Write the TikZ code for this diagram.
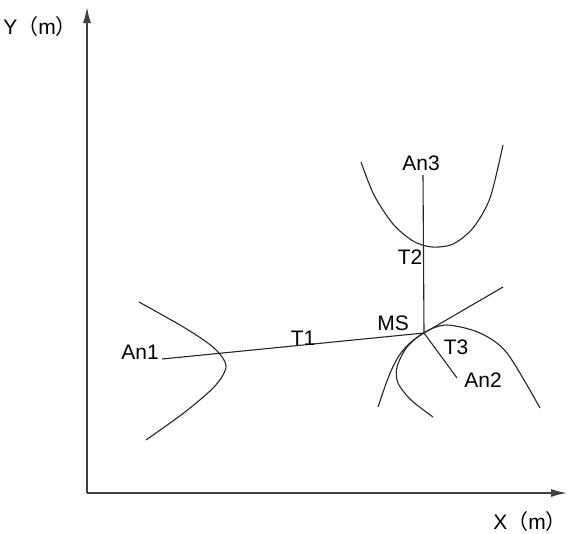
\documentclass[tikz,border=0pt]{standalone}
\usepackage{fontspec}
\setmainfont{Liberation Sans}
\newfontfamily\cjk{Noto Sans CJK SC}
\usetikzlibrary{arrows.meta}
\begin{document}
\begin{tikzpicture}[x=1pt,y=-1pt,
  axis/.style={draw=black!75,line width=1.5pt,-{Latex[length=16pt,width=8pt]}},
  curve/.style={draw=black!85,line width=1.1pt},
  link/.style={draw=black!85,line width=1.1pt},
  lbl/.style={font=\fontsize{21}{25}\selectfont,inner sep=0pt}]
\useasboundingbox (0,0) rectangle (569,533);
% axes
\coordinate (O) at (87,493);
\coordinate (Ytop) at (87,7);
\coordinate (Xend) at (567,493);
\draw[axis] (O) -- (Ytop);
\draw[axis] (O) -- (Xend);
\node[lbl] (ylab) at (40,27) {Y{\cjk （}m{\cjk ）}};
\node[lbl] (xlab) at (530,522) {X{\cjk （}m{\cjk ）}};
% points
\coordinate (MS) at (424,333);
\coordinate (A1) at (162,359);
\coordinate (A2) at (457,378);
\coordinate (A3) at (423,175);
% connectors
\draw[link] (A1) -- (MS);
\draw[link] (A3) -- (MS);
\draw[link] (MS) -- (A2);
% curves
\draw[curve] plot[smooth] coordinates {(139,302) (185,328) (214,348) (226,366) (215,386) (185,412) (146,440)};
\draw[curve] plot[smooth] coordinates {(361,162) (374,195) (393,224) (413,241) (432,247) (453,244) (473,228) (490,198) (503,145)};
\draw[curve] (378,407) .. controls (392,365) and (398,348) .. (MS) -- (503,287);
\draw[curve] plot[smooth] coordinates {(540,408) (507,353) (480,333) (447,325) (425,332) (407,347) (397,367) (398,383) (411,400) (433,417)};
% labels
\node[lbl] (lA3) at (421,163) {An3};
\node[lbl] (lT2) at (410,257) {T2};
\node[lbl] (lMS) at (393,323) {MS};
\node[lbl] (lT1) at (303,338) {T1};
\node[lbl] (lT3) at (456,347) {T3};
\node[lbl] (lA2) at (483,380) {An2};
\node[lbl] (lA1) at (140,352) {An1};
\end{tikzpicture}
\end{document}
